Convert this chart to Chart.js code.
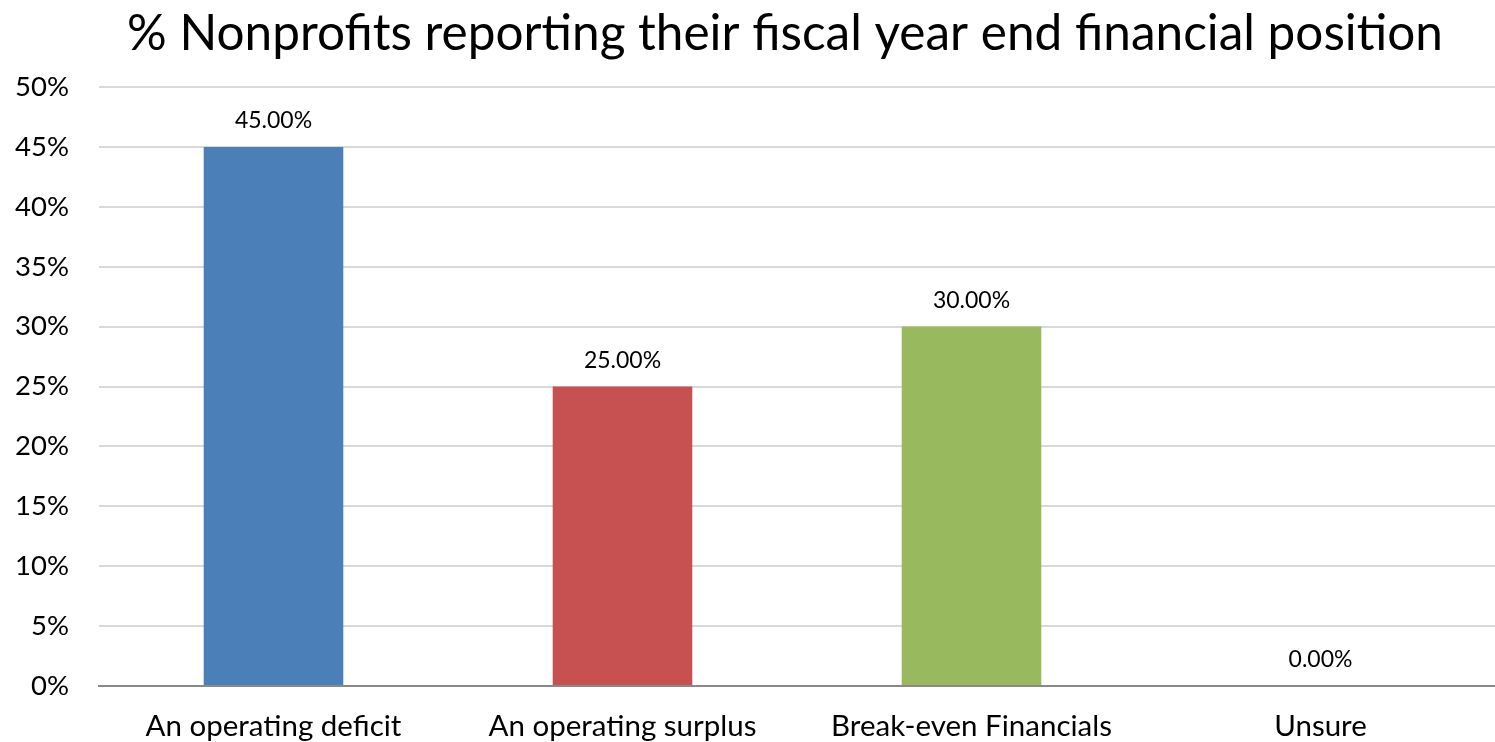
<!DOCTYPE html>
<html>
<head>
<meta charset="utf-8">
<script src="https://cdn.jsdelivr.net/npm/chart.js@4.4.1/dist/chart.umd.min.js"></script>
<style>
    html, body { margin: 0; padding: 0; background: #ffffff; }
    #wrap { width: 1495px; height: 742px; }
</style>
</head>
<body>
<div id="wrap"><canvas id="fiscalChart" width="1495" height="742"></canvas></div>
<script>
const categories = ['An operating deficit', 'An operating surplus', 'Break-even Financials', 'Unsure'];
const percentValues = [45, 25, 30, 0];
const barColors = ['#4a7fb8', '#c65150', '#98b95d', '#8064a2'];
const yTicks = [0, 5, 10, 15, 20, 25, 30, 35, 40, 45, 50];
const chartTitle = '% Nonprofits reporting their fiscal year end financial position';

const FONT = 'Lato, "Open Sans", sans-serif';

// value labels above each bar
const valueLabels = {
    id: 'valueLabels',
    afterDatasetsDraw(chart) {
        const c = chart.ctx;
        const meta = chart.getDatasetMeta(0);
        c.save();
        c.font = '23px ' + FONT;
        c.fillStyle = '#000';
        c.textAlign = 'center';
        c.textBaseline = 'middle';
        meta.data.forEach((bar, i) => {
            c.fillText(percentValues[i].toFixed(2) + '%', bar.x, bar.y - 26);
        });
        c.restore();
    }
};

// heading, centred a little right of the canvas middle
const heading = {
    id: 'heading',
    afterDraw(chart) {
        const c = chart.ctx;
        c.save();
        c.font = '49.5px ' + FONT;
        c.fillStyle = '#000';
        c.textAlign = 'center';
        c.textBaseline = 'middle';
        c.fillText(chartTitle, 785, 34);
        c.restore();
    }
};

new Chart(document.getElementById('fiscalChart'), {
    type: 'bar',
    data: {
        labels: categories,
        datasets: [{
            data: percentValues,
            backgroundColor: barColors,
            barPercentage: 0.4,
            categoryPercentage: 1.0
        }]
    },
    options: {
        responsive: false,
        animation: false,
        layout: { padding: { top: 87, left: 0, right: 0, bottom: 0 } },
        plugins: {
            legend: { display: false },
            tooltip: { enabled: false },
            title: { display: false }
        },
        scales: {
            x: {
                afterFit(scale) { scale.height = 56; },
                ticks: {
                    color: '#000',
                    font: { family: FONT, size: 29.5 },
                    padding: 23,
                    maxRotation: 0,
                    autoSkip: false
                },
                grid: { display: false, drawTicks: false },
                border: { color: '#898989', width: 2 }
            },
            y: {
                min: 0,
                max: 50,
                afterFit(scale) { scale.width = 99; },
                afterBuildTicks(scale) { scale.ticks = yTicks.map(v => ({ value: v })); },
                ticks: {
                    color: '#000',
                    font: { family: FONT, size: 27.5 },
                    padding: 30,
                    callback: v => v + '%'
                },
                grid: {
                    color: ctx => ctx.tick.value === 0 ? 'rgba(0,0,0,0)' : '#d9d9d9',
                    lineWidth: 2,
                    drawTicks: false
                },
                border: { display: false }
            }
        }
    },
    plugins: [valueLabels, heading]
});
</script>
</body>
</html>
